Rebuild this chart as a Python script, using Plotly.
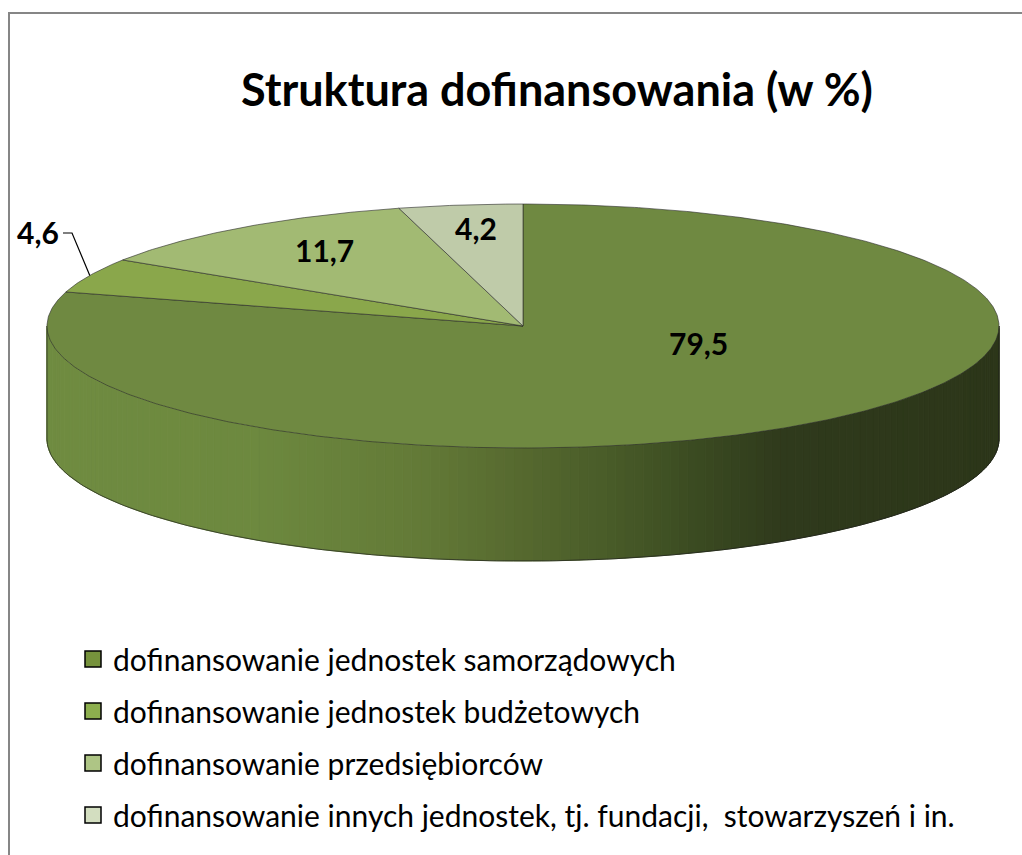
import numpy as np
import plotly.graph_objects as go

# ---------------- data ----------------
title_text = "Struktura dofinansowania (w %)"
categories = [
    "dofinansowanie jednostek samorządowych",
    "dofinansowanie jednostek budżetowych",
    "dofinansowanie przedsiębiorców",
    "dofinansowanie innych jednostek, tj. fundacji,\u00a0 stowarzyszeń i in.",
]
values = [79.5, 4.6, 11.7, 4.2]
value_labels = ["79,5", "4,6", "11,7", "4,2"]

# ---------------- style ----------------
top_colors = ["#6F8941", "#8AA74B", "#A2BA73", "#BFCBA9"]
legend_colors = ["#76923C", "#8DAF4E", "#AEC585", "#D3DEC0"]
side_stops = [  # (x pixel, colour) for the shaded side wall
    (47, (0x6F, 0x8B, 0x40)),
    (250, (0x6D, 0x89, 0x3F)),
    (420, (0x63, 0x7A, 0x37)),
    (520, (0x56, 0x69, 0x2F)),
    (600, (0x4A, 0x5D, 0x29)),
    (700, (0x3A, 0x4A, 0x21)),
    (780, (0x2F, 0x3A, 0x1C)),
    (1000, (0x2C, 0x36, 0x19)),
]
W, H = 1022, 855
CX, CY, RX, RY, DEPTH = 523, 326, 476, 122, 113
FONT = "Lato"


def pt(t_deg, r=1.0):
    t = np.radians(t_deg)
    return CX + RX * r * np.sin(t), CY - RY * r * np.cos(t)


def side_color(x):
    xs = [s[0] for s in side_stops]
    rgb = [int(round(np.interp(x, xs, [s[1][k] for s in side_stops]))) for k in range(3)]
    return "rgb(%d,%d,%d)" % tuple(rgb)


fig = go.Figure()

# slice angles (clockwise from 12 o'clock)
total = float(sum(values))
cum = np.concatenate([[0.0], np.cumsum(values)]) / total * 360.0

# ---- side wall (front half of the cylinder, belongs to the first slice) ----
N = 160
tt = np.linspace(90, 270, N + 1)
for i in range(N):
    t0, t1 = tt[i], tt[i + 1]
    x0, y0 = pt(t0)
    x1, y1 = pt(t1)
    col = side_color((x0 + x1) / 2)
    fig.add_trace(go.Scatter(
        x=[x0, x1, x1, x0, x0], y=[y0, y1, y1 + DEPTH, y0 + DEPTH, y0],
        mode="lines", fill="toself", fillcolor=col,
        line=dict(color=col, width=1), hoverinfo="skip", showlegend=False))

# side outline
ts = np.linspace(90, 270, 200)
bx, by = pt(ts)
rxp, ryp = pt(90)
lxp, lyp = pt(270)
fig.add_trace(go.Scatter(
    x=[rxp] + list(bx) + [lxp], y=[ryp] + list(by + DEPTH) + [lyp],
    mode="lines", line=dict(color="rgba(30,30,30,0.8)", width=0.8),
    hoverinfo="skip", showlegend=False))

# ---- top faces ----
for i, v in enumerate(values):
    a0, a1 = cum[i], cum[i + 1]
    ts = np.linspace(a0, a1, max(int((a1 - a0) * 2), 8))
    ax, ay = pt(ts)
    fig.add_trace(go.Scatter(
        x=[CX] + list(ax) + [CX], y=[CY] + list(ay) + [CY],
        mode="lines", fill="toself", fillcolor=top_colors[i],
        line=dict(color="rgba(40,40,40,0.75)", width=0.8),
        name=categories[i], hoverinfo="name", showlegend=False))

# ---- legend entries ----
for i, c in enumerate(categories):
    fig.add_trace(go.Scatter(
        x=[None], y=[None], mode="markers", name=c, legendgroup=str(i),
        marker=dict(symbol="square", size=16, color=legend_colors[i],
                    line=dict(color="black", width=1.5)),
        showlegend=True))

# ---- data labels ----
label_pos = [(698, 343), (38, 232), (324, 250), (476, 228)]
for i, lab in enumerate(value_labels):
    fig.add_annotation(x=label_pos[i][0], y=label_pos[i][1], text="<b>%s</b>" % lab,
                       showarrow=False, xanchor="center", yanchor="middle",
                       font=dict(family=FONT, size=30, color="black"))

# leader line for the small outside label (4,6)
mid = (cum[1] + cum[2]) / 2
ex, ey = pt(mid)
fig.add_trace(go.Scatter(
    x=[63, 72, ex], y=[233, 233, ey], mode="lines",
    line=dict(color="black", width=1.2), hoverinfo="skip", showlegend=False))

# title
fig.add_annotation(x=557, y=89, text="<b>%s</b>" % title_text, showarrow=False,
                   xanchor="center", yanchor="middle",
                   font=dict(family=FONT, size=45, color="black"))

# chart border
fig.add_shape(type="rect", x0=9, y0=13, x1=W + 20, y1=H + 20,
              line=dict(color="#868686", width=2), fillcolor="rgba(0,0,0,0)", layer="above")

fig.update_layout(
    width=W, height=H,
    margin=dict(l=0, r=0, t=0, b=0),
    paper_bgcolor="white", plot_bgcolor="white",
    xaxis=dict(range=[0, W], visible=False, fixedrange=True),
    yaxis=dict(range=[H, 0], visible=False, fixedrange=True),
    showlegend=True,
    legend=dict(x=73 / W, xanchor="left", y=1 - 633 / H, yanchor="top",
                font=dict(family=FONT, size=30, color="black"),
                tracegroupgap=10, bgcolor="rgba(0,0,0,0)",
                itemclick=False, itemdoubleclick=False),
    font=dict(family=FONT),
)

fig.write_html("out.html", config={"displayModeBar": False},
               post_script="document.body.style.margin='0';document.body.style.overflow='hidden';")
